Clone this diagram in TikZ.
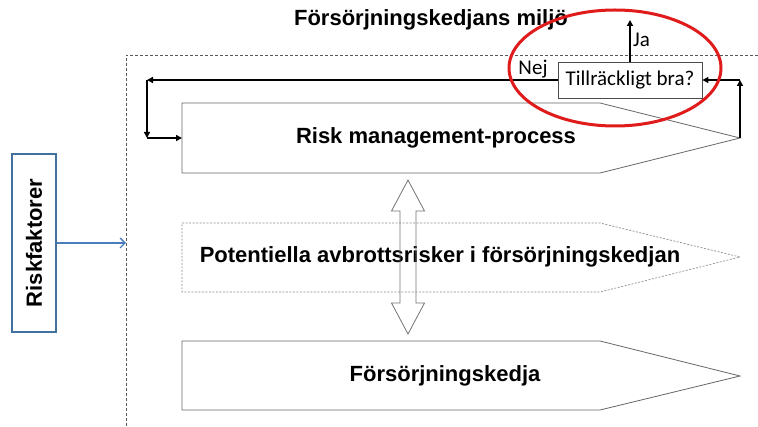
\documentclass[tikz,border=0pt]{standalone}
\usepackage{fontspec}
\setmainfont{Liberation Sans}
\newfontfamily\calibri{Carlito}
\usetikzlibrary{arrows.meta}
\definecolor{rfblue}{HTML}{41719C}
\definecolor{arrblue}{HTML}{4A7EBB}
\definecolor{ringred}{HTML}{E01B1B}
\begin{document}
\begin{tikzpicture}[x=1pt,y=-1pt,
  lbl/.style={font=\bfseries\fontsize{22}{26}\selectfont, inner sep=0pt},
  small/.style={font=\calibri\fontsize{21}{24}\selectfont, inner sep=0pt},
  chev/.style={draw=black!60, line width=0.8pt, fill=white},
  chevdash/.style={draw=black!45, line width=0.7pt, dash pattern=on 2pt off 1.5pt},
  fb/.style={line width=1.8pt, -{Triangle[length=6pt,width=6pt]}},
  frame/.style={draw=black!65, line width=0.6pt, dash pattern=on 3pt off 2pt},
  darrow/.style={draw=black!55, line width=0.8pt}]
\useasboundingbox (0,0) rectangle (758,427);

% environment frame
\draw[frame] (758,55) -- (126,55) -- (126,427);
\coordinate (frame-w) at (126,243);

% title
\node[lbl] (title) at (431,20) {Försörjningskedjans miljö};

% risk factors box
\node[draw=rfblue, line width=1.5pt, minimum width=44pt, minimum height=178pt, inner sep=0pt] (rf) at (34,243) {};
\node[lbl, rotate=90] (rftext) at (rf.center) {Riskfaktorer};
\draw[arrblue, line width=1.3pt, -{Straight Barb[length=5pt,width=10pt]}] (rf.east) -- (frame-w);

% risk management process
\draw[chev] (182,103) -- (600,103) -- (740,138) -- (600,173) -- (182,173) -- cycle;
\coordinate (rm-w) at (182,138);
\coordinate (rm-e) at (740,138);
\node[lbl] (rmtext) at (436,138) {Risk management-process};

% potential disruption risks
\draw[chevdash] (182,223) -- (600,223) -- (740,257) -- (600,292) -- (182,292) -- cycle;
\node[lbl] (pottext) at (440,257) {Potentiella avbrottsrisker i försörjningskedjan};

% supply chain
\draw[chev] (182,341) -- (600,341) -- (740,376) -- (600,410) -- (182,410) -- cycle;
\node[lbl] (sctext) at (445,376) {Försörjningskedja};

% two-way interaction
\draw[darrow] (408,180) -- (424.5,211) -- (416,211) -- (416,303) -- (424.5,303)
  -- (408,334) -- (391.5,303) -- (400,303) -- (400,211) -- (391.5,211) -- cycle;

% decision box and feedback loop
\node[draw=black!70, line width=0.8pt, fill=white, minimum width=144pt, minimum height=36pt, inner sep=0pt] (tb) at (630,80) {};
\node[small] (tbtext) at (tb.center) {Tillräckligt bra?};

\coordinate (nw) at (147,80);
\coordinate (sw) at (147,138);
\coordinate (ne) at (740,80);
\coordinate (up) at (630,20);

\draw[fb] (tb.west) -- (nw);
\draw[fb] (nw) -- (sw);
\draw[fb] (sw) -- (rm-w);
\draw[fb] (rm-e) -- (ne);
\draw[fb] (ne) -- (tb.east);
\draw[fb] (tb.north) -- (up);

\node[small, anchor=west] (ja) at (633,40) {Ja};
\node[small, anchor=south] (nej) at (533,78) {Nej};

% highlight ring
\draw[ringred, line width=3pt] (615,68) ellipse [x radius=106pt, y radius=58pt];
\end{tikzpicture}
\end{document}
